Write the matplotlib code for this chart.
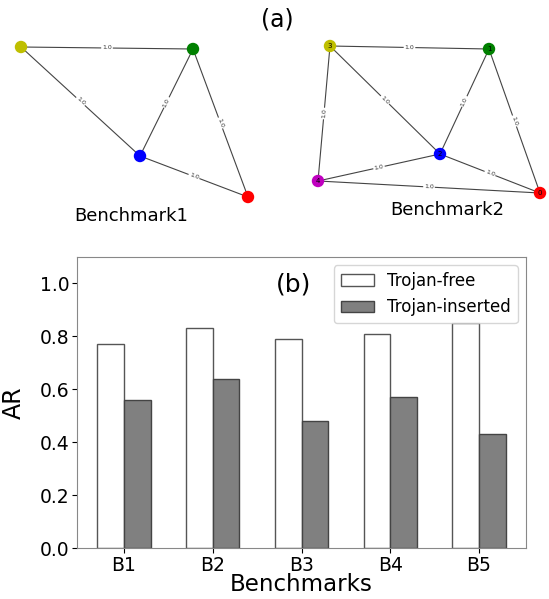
import numpy as np
import matplotlib
matplotlib.use("Agg")
import matplotlib.pyplot as plt

# graph (a): node layouts (pixel-like units of the top panel) and edges
g1_pos = {"y": (21, 47), "g": (193, 49), "b": (140, 156), "r": (248, 197)}
g1_edges = [("y", "g"), ("y", "b"), ("g", "b"), ("g", "r"), ("b", "r")]

g2_labels = ["0", "1", "2", "3", "4"]
g2_colors = ["r", "g", "b", "y", "m"]
g2_pos = [(540, 193), (489, 49), (440, 154), (330, 46), (318, 181)]
g2_edges = [(3, 1), (3, 2), (3, 4), (1, 2), (1, 0), (2, 4), (2, 0), (4, 0)]
edge_weight = "1.0"

# bar chart (b)
benchmarks = ["B1", "B2", "B3", "B4", "B5"]
trojan_free = [0.77, 0.83, 0.79, 0.81, 0.85]
trojan_inserted = [0.56, 0.64, 0.48, 0.57, 0.43]

W, H = 549, 599
fig = plt.figure(figsize=(W / 100, H / 100), dpi=100)

top = fig.add_axes([0, 1 - 230 / H, 1, 230 / H])
top.set_xlim(0, W)
top.set_ylim(230, 0)
top.axis("off")


def draw_edge(ax, p, q):
    ax.plot([p[0], q[0]], [p[1], q[1]], color="#444444", lw=0.8, zorder=1)
    mx, my = (p[0] + q[0]) / 2, (p[1] + q[1]) / 2
    ang = -np.degrees(np.arctan2(q[1] - p[1], q[0] - p[0]))
    if ang > 90:
        ang -= 180
    if ang < -90:
        ang += 180
    ax.text(mx, my, edge_weight, fontsize=4.5, rotation=ang, ha="center", va="center",
            rotation_mode="anchor", color="#333333", zorder=2,
            bbox=dict(boxstyle="round,pad=0.15", fc="white", ec="none"))


for a, b in g1_edges:
    draw_edge(top, g1_pos[a], g1_pos[b])
for c, (x, y) in g1_pos.items():
    top.scatter(x, y, s=80, color=c, zorder=3, edgecolors="none")

for a, b in g2_edges:
    draw_edge(top, g2_pos[a], g2_pos[b])
for lab, c, (x, y) in zip(g2_labels, g2_colors, g2_pos):
    top.scatter(x, y, s=80, color=c, zorder=3, edgecolors="none")
    top.text(x, y, lab, fontsize=5, ha="center", va="center", zorder=4)

top.text(277, 19, "(a)", fontsize=17, ha="center", va="center")
top.text(131, 216, "Benchmark1", fontsize=13, ha="center", va="center")
top.text(447, 210, "Benchmark2", fontsize=13, ha="center", va="center")

ax = fig.add_axes([77 / W, 1 - 548 / H, 449 / W, 291 / H])
x = np.arange(len(benchmarks))
w = 0.3
ax.bar(x - w / 2, trojan_free, w, color="white", edgecolor="#555555", lw=1, label="Trojan-free")
ax.bar(x + w / 2, trojan_inserted, w, color="gray", edgecolor="#444444", lw=1, label="Trojan-inserted")
ax.set_ylim(0, 1.1)
ax.set_yticks([0, 0.2, 0.4, 0.6, 0.8, 1.0])
ax.set_xticks(x)
ax.set_xticklabels(benchmarks)
ax.tick_params(labelsize=13.5, pad=2)
ax.set_ylabel("AR", fontsize=17)
ax.yaxis.set_label_coords(-0.114, 0.5)
ax.set_xlabel("Benchmarks", fontsize=16.5, labelpad=-1)
for s in ax.spines.values():
    s.set_color("#888888")
ax.text(0.483, 0.905, "(b)", transform=ax.transAxes, fontsize=18, ha="center", va="center")
ax.legend(fontsize=12, loc="upper right")

fig.savefig("out.png", dpi=100)
